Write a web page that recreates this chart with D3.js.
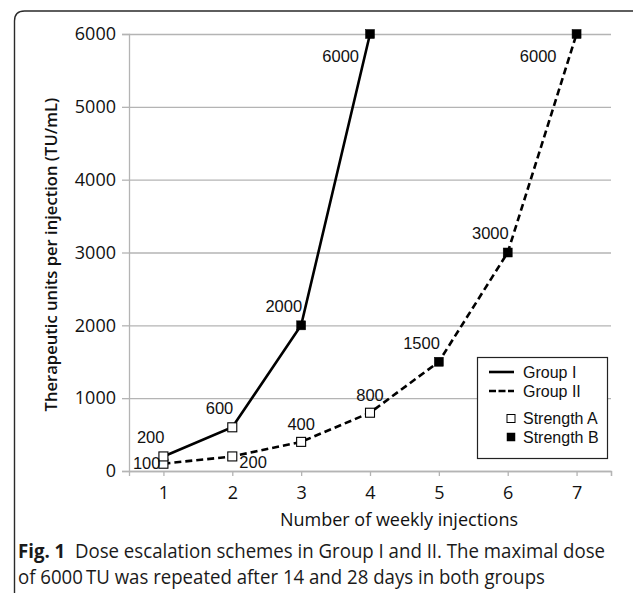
<!DOCTYPE html>
<html>
<head>
<meta charset="utf-8">
<script src="https://cdn.jsdelivr.net/npm/d3@7"></script>
<style>
  html, body { margin: 0; padding: 0; background: #fff; }
  svg { display: block; }
</style>
</head>
<body>
<div id="wrapper"></div>
<script>
// data
const weeks = [1, 2, 3, 4, 5, 6, 7]
const groupI = [200, 600, 2000, 6000]
const groupII = [100, 200, 400, 800, 1500, 3000, 6000]
const strengthI = ["A", "A", "B", "B"]
const strengthII = ["A", "A", "A", "A", "B", "B", "B"]
const yTicks = [0, 1000, 2000, 3000, 4000, 5000, 6000]
// where each value label sits relative to its marker
const placeI = ["nw", "nw", "nw", "sw"]
const placeII = ["w", "se", "n", "n", "nw", "nw", "sw2"]

const seriesI = groupI.map((v, i) => ({ week: weeks[i], value: v, strength: strengthI[i], place: placeI[i] }))
const seriesII = groupII.map((v, i) => ({ week: weeks[i], value: v, strength: strengthII[i], place: placeII[i] }))

// dimensions
const width = 633
const height = 593
let dimensions = {
  width: width,
  height: height,
  margin: { top: 34, right: 22, bottom: 122, left: 129 },
}
dimensions.boundWidth = dimensions.width - dimensions.margin.left - dimensions.margin.right
dimensions.boundHeight = dimensions.height - dimensions.margin.top - dimensions.margin.bottom

const svg = d3.select("#wrapper")
  .append("svg")
    .attr("width", dimensions.width)
    .attr("height", dimensions.height)

// card border (rounded top-left corner)
svg.append("path")
  .attr("d", "M14.5,600 L14.5,21 Q14.5,11 24.5,11 L640,11")
  .attr("fill", "none")
  .attr("stroke", "#2a2a2a")
  .attr("stroke-width", 1.4)

// scales
const xScale = d3.scaleLinear()
  .domain([0.5, 7.5])
  .range([dimensions.margin.left, dimensions.margin.left + dimensions.boundWidth])
const yScale = d3.scaleLinear()
  .domain([0, 6000])
  .range([dimensions.margin.top + dimensions.boundHeight, dimensions.margin.top])

const gridColor = "#b4b4b4"
const tickFont = "'Open Sans', sans-serif"
const labelFont = "'Liberation Sans', Arial, sans-serif"

// y axis with gridlines
const yAxis = svg.append("g")
  .attr("id", "y-axis")
  .attr("transform", `translate(${xScale.range()[0]},0)`)
  .call(d3.axisLeft(yScale).tickValues(yTicks).tickSize(7).tickPadding(6).tickFormat(d3.format("d")))
yAxis.select(".domain").attr("stroke", gridColor).attr("stroke-width", 1.3)
yAxis.selectAll(".tick line").attr("stroke", gridColor).attr("stroke-width", 1.3)
yAxis.selectAll(".tick text")
  .attr("font-size", 18)
  .attr("font-family", tickFont)
  .attr("fill", "#111")
yAxis.selectAll(".tick")
  .append("line")
  .attr("x1", 0)
  .attr("x2", dimensions.boundWidth)
  .attr("stroke", gridColor)
  .attr("stroke-width", 1.3)

// x axis
const xAxis = svg.append("g")
  .attr("id", "x-axis")
  .attr("transform", `translate(0,${yScale(0)})`)
  .call(d3.axisBottom(xScale).tickValues(weeks.concat([7.5])).tickSize(5).tickPadding(10)
    .tickFormat(d => d === 7.5 ? "" : d))
xAxis.select(".domain").attr("stroke", gridColor).attr("stroke-width", 1.3)
xAxis.selectAll(".tick line").attr("stroke", gridColor).attr("stroke-width", 1.3)
xAxis.selectAll(".tick text")
  .attr("font-size", 18)
  .attr("font-family", tickFont)
  .attr("fill", "#111")

// axis titles
svg.append("text")
  .attr("transform", `translate(57,${(yScale(0) + yScale(6000)) / 2 + 2}) rotate(-90)`)
  .attr("text-anchor", "middle")
  .attr("font-family", tickFont)
  .attr("font-weight", 600)
  .attr("font-size", 16.6)
  .attr("fill", "#111")
  .text("Therapeutic units per injection (TU/mL)")

svg.append("text")
  .attr("x", 399)
  .attr("y", 526)
  .attr("text-anchor", "middle")
  .attr("font-family", tickFont)
  .attr("font-size", 18)
  .attr("fill", "#111")
  .text("Number of weekly injections")

// lines
const lineGen = d3.line()
  .x(d => xScale(d.week))
  .y(d => yScale(d.value))

svg.append("path")
  .datum(seriesII)
  .attr("d", lineGen)
  .attr("fill", "none")
  .attr("stroke", "#000")
  .attr("stroke-width", 2.6)
  .attr("stroke-dasharray", "7,4")

svg.append("path")
  .datum(seriesI)
  .attr("d", lineGen)
  .attr("fill", "none")
  .attr("stroke", "#000")
  .attr("stroke-width", 2.6)

// markers
function drawMarkers(series) {
  svg.append("g")
    .selectAll("rect")
    .data(series)
    .enter()
      .append("rect")
      .attr("x", d => xScale(d.week) - 4.5)
      .attr("y", d => yScale(d.value) - 4.5)
      .attr("width", 9)
      .attr("height", 9)
      .attr("fill", d => d.strength === "A" ? "#fff" : "#000")
      .attr("stroke", "#000")
      .attr("stroke-width", d => d.strength === "A" ? 1.1 : 0.5)
}
drawMarkers(seriesII)
drawMarkers(seriesI)

// value labels
const placement = {
  nw: { dx: 1, dy: -19, anchor: "end" },
  sw: { dx: -11, dy: 22, anchor: "end" },
  sw2: { dx: -20, dy: 22, anchor: "end" },
  w: { dx: -3, dy: -1, anchor: "end" },
  se: { dx: 7, dy: 6, anchor: "start" },
  n: { dx: 0, dy: -18, anchor: "middle" },
}
function drawLabels(series) {
  svg.append("g")
    .selectAll("text")
    .data(series)
    .enter()
      .append("text")
      .attr("x", d => xScale(d.week) + placement[d.place].dx)
      .attr("y", d => yScale(d.value) + placement[d.place].dy)
      .attr("dy", "0.36em")
      .attr("text-anchor", d => placement[d.place].anchor)
      .attr("font-family", labelFont)
      .attr("font-size", 16.5)
      .attr("fill", "#111")
      .text(d => d.value)
}
drawLabels(seriesI)
drawLabels(seriesII)

// legend
const legend = svg.append("g").attr("id", "legend")
legend.append("rect")
  .attr("x", 477.5).attr("y", 357.5)
  .attr("width", 130).attr("height", 101)
  .attr("fill", "#fff")
  .attr("stroke", "#222")
  .attr("stroke-width", 1.2)

const legendItems = [
  { label: "Group I", kind: "solid", y: 372 },
  { label: "Group II", kind: "dash", y: 391 },
  { label: "Strength A", kind: "A", y: 418.5 },
  { label: "Strength B", kind: "B", y: 437 },
]
legendItems.forEach(item => {
  if (item.kind === "solid" || item.kind === "dash") {
    legend.append("line")
      .attr("x1", 489).attr("x2", 514)
      .attr("y1", item.y).attr("y2", item.y)
      .attr("stroke", "#000")
      .attr("stroke-width", 2.6)
      .attr("stroke-dasharray", item.kind === "dash" ? "7,2.5" : null)
  } else {
    legend.append("rect")
      .attr("x", 507).attr("y", item.y - 4)
      .attr("width", 8).attr("height", 8)
      .attr("fill", item.kind === "A" ? "#fff" : "#000")
      .attr("stroke", "#000")
      .attr("stroke-width", item.kind === "A" ? 1 : 0.5)
  }
  legend.append("text")
    .attr("x", 523)
    .attr("y", item.y)
    .attr("dy", "0.36em")
    .attr("font-family", labelFont)
    .attr("font-size", 16)
    .attr("fill", "#111")
    .text(item.label)
})

// caption
const caption1 = svg.append("text")
  .attr("x", 18)
  .attr("y", 558)
  .attr("font-family", tickFont)
  .attr("font-size", 19.5)
  .attr("fill", "#1a1a1a")
  .attr("textLength", 587)
  .attr("lengthAdjust", "spacingAndGlyphs")
caption1.append("tspan").attr("font-weight", 700).text("Fig. 1")
caption1.append("tspan").text("\u00a0\u00a0Dose escalation schemes in Group I and II. The maximal dose")

svg.append("text")
  .attr("x", 18)
  .attr("y", 584)
  .attr("font-family", tickFont)
  .attr("font-size", 19.5)
  .attr("fill", "#1a1a1a")
  .attr("textLength", 527)
  .attr("lengthAdjust", "spacingAndGlyphs")
  .text("of 6000\u2009TU was repeated after 14 and 28 days in both groups")
</script>
</body>
</html>
